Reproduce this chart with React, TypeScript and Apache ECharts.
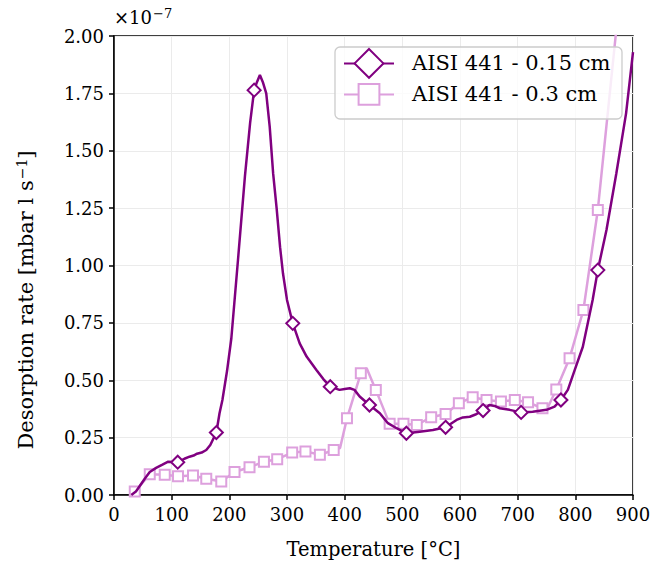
import React, { useEffect, useRef } from "react";
import * as echarts from "echarts";

const FONT = "DejaVu Serif";
const DARK = "#800080";
const LIGHT = "#DDA0DD";

const xTicks = [0, 100, 200, 300, 400, 500, 600, 700, 800, 900];
const yTicks = [0, 0.25, 0.5, 0.75, 1.0, 1.25, 1.5, 1.75, 2.0];

const nameA = "AISI 441 - 0.15 cm";
const tempA = [30, 38, 45, 53, 62, 73, 84, 94, 110.5, 122, 131, 138, 144, 152, 160, 167, 177.5, 183, 188, 196, 203.5, 215, 227, 236, 243, 248, 253, 258, 264, 270, 276, 282, 288, 293, 300, 310, 322, 334, 351, 363, 375, 391, 400, 409, 417, 426, 443, 461, 475, 490, 507, 530, 553, 575, 594, 605, 617, 628, 640, 651, 660, 669, 686, 706, 726, 750, 764, 775, 787, 799, 813, 830, 839, 854, 871, 888, 900];
const rateA = [0, 0.015, 0.04, 0.07, 0.10, 0.118, 0.132, 0.145, 0.143, 0.158, 0.167, 0.172, 0.18, 0.185, 0.196, 0.218, 0.272, 0.356, 0.414, 0.54, 0.683, 1.024, 1.387, 1.62, 1.764, 1.80, 1.83, 1.80, 1.75, 1.605, 1.40, 1.25, 1.08, 0.966, 0.85, 0.748, 0.661, 0.603, 0.545, 0.505, 0.472, 0.458, 0.462, 0.465, 0.458, 0.429, 0.392, 0.356, 0.313, 0.291, 0.269, 0.276, 0.283, 0.295, 0.327, 0.338, 0.341, 0.352, 0.368, 0.392, 0.388, 0.378, 0.371, 0.36, 0.363, 0.371, 0.385, 0.414, 0.458, 0.545, 0.646, 0.85, 0.98, 1.155, 1.40, 1.663, 1.93];
const markersA = [110.5, 177.5, 243, 310, 375, 443, 507, 575, 640, 706, 775, 839];

const nameB = "AISI 441 - 0.3 cm";
const tempB = [30, 36, 62, 88, 111, 137, 160, 186, 209, 235, 260, 283, 309, 332, 357, 381, 392, 404, 428, 438, 454, 478, 502, 525, 550, 575, 598, 622, 646, 671, 695, 718, 743, 752, 767, 790, 814, 839, 868, 878];
const rateB = [0, 0.015, 0.09, 0.088, 0.082, 0.085, 0.071, 0.059, 0.10, 0.121, 0.145, 0.156, 0.185, 0.19, 0.175, 0.196, 0.205, 0.334, 0.53, 0.553, 0.458, 0.31, 0.31, 0.305, 0.339, 0.353, 0.40, 0.426, 0.414, 0.407, 0.414, 0.404, 0.378, 0.38, 0.46, 0.596, 0.806, 1.242, 1.953, 2.2];
const plainB = [30, 392, 438, 752, 868, 878];

function build(temps: number[], rates: number[], isMarker: (t: number) => boolean) {
  return temps.map((t, i) =>
    isMarker(t) ? { value: [t, rates[i]] } : { value: [t, rates[i]], symbol: "none" }
  );
}

export default function App() {
  const ref = useRef<HTMLDivElement>(null);
  useEffect(() => {
    const chart = echarts.init(ref.current!, null, { renderer: "svg" });
    const axisCommon = {
      axisLine: { show: true, lineStyle: { color: "#000", width: 1.5 } },
      axisTick: { show: true, inside: false, length: 5, lineStyle: { color: "#000", width: 1.5 } },
      splitLine: { show: true, lineStyle: { color: "#ebebeb", width: 1 } },
    };
    const option: any = {
      animation: false,
      backgroundColor: "#fff",
      grid: {
        left: 114,
        right: 31,
        top: 36,
        bottom: 80,
        show: true,
        borderColor: "#000",
        borderWidth: 1.5,
        backgroundColor: "transparent",
      },
      xAxis: {
        type: "value",
        min: xTicks[0],
        max: xTicks[xTicks.length - 1],
        interval: 100,
        ...axisCommon,
        axisLabel: { fontFamily: FONT, fontSize: 18, color: "#000", margin: 10 },
        name: "Temperature [°C]",
        nameLocation: "middle",
        nameGap: 44,
        nameTextStyle: { fontFamily: FONT, fontSize: 19.5, color: "#000" },
      },
      yAxis: {
        type: "value",
        min: yTicks[0],
        max: yTicks[yTicks.length - 1],
        interval: 0.25,
        ...axisCommon,
        axisLabel: {
          fontFamily: FONT,
          fontSize: 18,
          color: "#000",
          margin: 10,
          formatter: (v: number) => v.toFixed(2),
        },
      },
      graphic: [
        {
          type: "text",
          left: 114,
          top: 7,
          style: {
            text: "×10{sup|−7}",
            fontFamily: FONT,
            fontSize: 18,
            fill: "#000",
            rich: { sup: { fontFamily: FONT, fontSize: 13, verticalAlign: "top", padding: [0, 0, 8, 1] } },
          },
        },
        {
          type: "text",
          x: 26,
          y: 300,
          rotation: Math.PI / 2,
          style: {
            text: "Desorption rate [mbar l s{sup|−1}]",
            fontFamily: FONT,
            fontSize: 21,
            fill: "#000",
            align: "center",
            verticalAlign: "middle",
            rich: { sup: { fontFamily: FONT, fontSize: 14, verticalAlign: "top", padding: [0, 0, 9, 1] } },
          },
        },
        {
          type: "rect",
          z: 3,
          shape: { x: 335, y: 47, width: 287, height: 72, r: 5 },
          style: { fill: "rgba(255,255,255,0.8)", stroke: "#cccccc", lineWidth: 1.3 },
        },
      ],
      legend: [
        {
          data: [nameA],
          left: 343,
          top: 48,
          orient: "vertical",
          itemWidth: 50,
          itemHeight: 36,
          padding: 0,
          selectedMode: false,
          z: 5,
          textStyle: { fontFamily: FONT, fontSize: 21, color: "#000", padding: [0, 0, 0, 13] },
        },
        {
          data: [nameB],
          left: 343,
          top: 83,
          orient: "vertical",
          itemWidth: 50,
          itemHeight: 26,
          padding: 0,
          selectedMode: false,
          z: 5,
          textStyle: { fontFamily: FONT, fontSize: 21, color: "#000", padding: [0, 0, 0, 13] },
        },
      ],
      series: [
        {
          name: nameA,
          type: "line",
          data: build(tempA, rateA, (t) => markersA.includes(t)),
          symbol: "emptyDiamond",
          symbolSize: 13,
          showAllSymbol: true,
          lineStyle: { color: DARK, width: 2.5 },
          itemStyle: { color: DARK, borderColor: DARK, borderWidth: 2 },
          z: 2,
        },
        {
          name: nameB,
          type: "line",
          data: build(tempB, rateB, (t) => !plainB.includes(t)),
          symbol: "emptyRect",
          symbolSize: 10,
          showAllSymbol: true,
          lineStyle: { color: LIGHT, width: 2.5 },
          itemStyle: { color: LIGHT, borderColor: LIGHT, borderWidth: 2 },
          z: 1,
        },
      ],
    };
    chart.setOption(option);
    return () => chart.dispose();
  }, []);
  return <div ref={ref} style={{ position: "absolute", left: 0, top: 0, width: 664, height: 575 }} />;
}
